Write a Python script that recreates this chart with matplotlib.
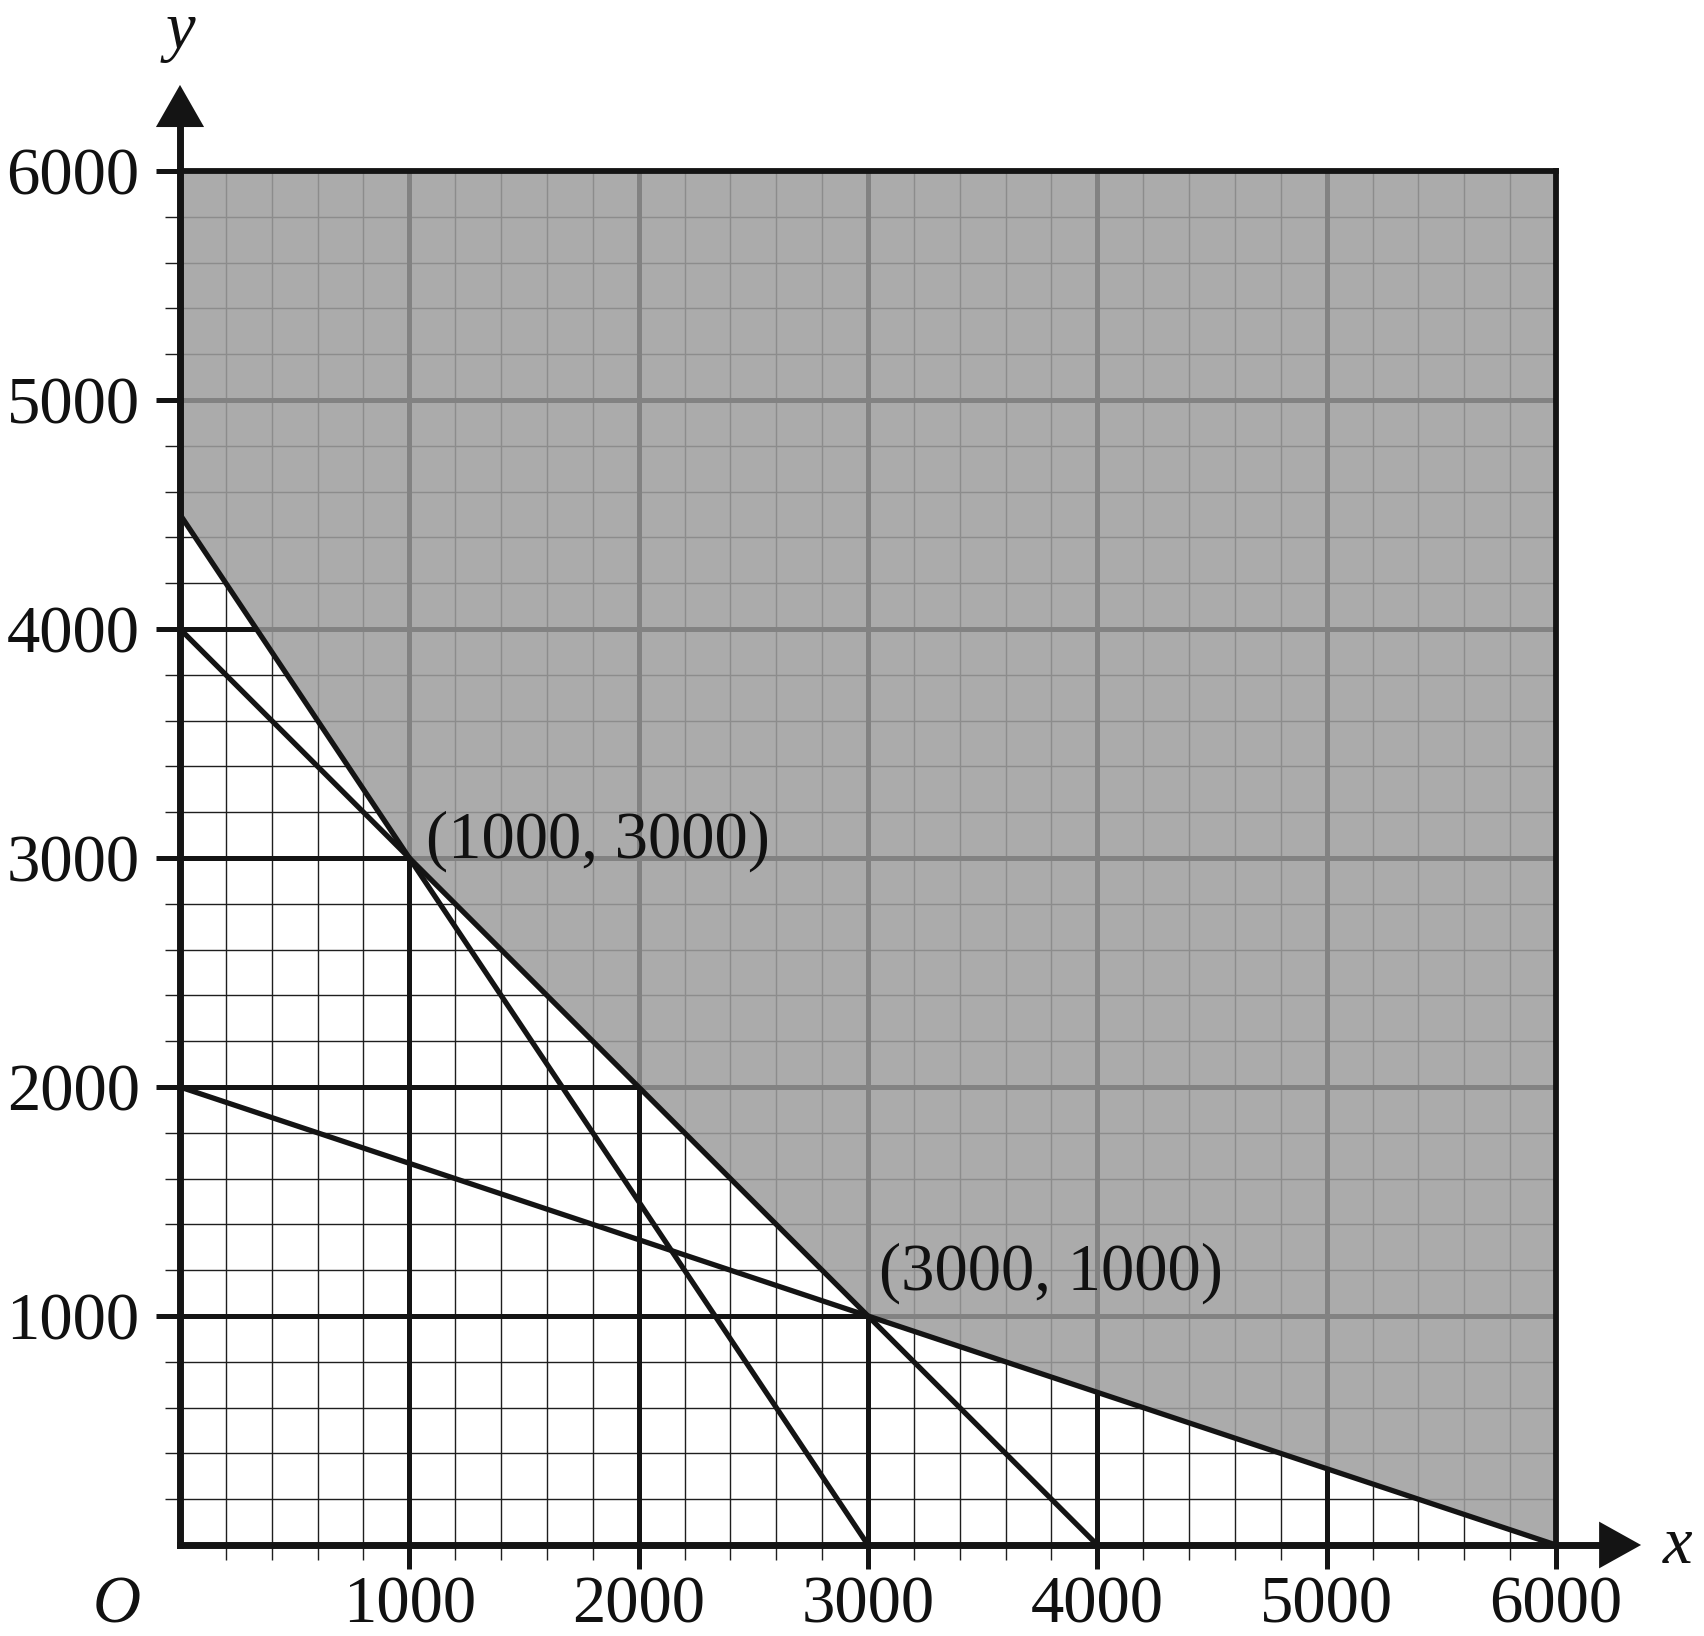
import matplotlib
matplotlib.use("Agg")
import matplotlib.pyplot as plt
from matplotlib.patches import Polygon
from matplotlib.collections import LineCollection

# ---------------- data ----------------
x_ticks = [1000, 2000, 3000, 4000, 5000, 6000]
y_ticks = [1000, 2000, 3000, 4000, 5000, 6000]
x_tick_labels = ["1000", "2000", "3000", "4000", "5000", "6000"]
y_tick_labels = ["1000", "2000", "3000", "4000", "5000", "6000"]

# constraint lines, given by their intercepts on the axes
line_x_intercepts = [3000, 4000, 6000]
line_y_intercepts = [4500, 4000, 2000]

# lower boundary of the shaded region
boundary_x = [0, 1000, 3000, 6000]
boundary_y = [4500, 3000, 1000, 0]

annot_x = [1000, 3000]
annot_y = [3000, 1000]
annot_labels = ["(1000, 3000)", "(3000, 1000)"]
annot_offsets_pt = [(12, 0), (8, 18.7)]

# ---------------- styling ----------------
SERIF = ["Liberation Serif", "DejaVu Serif"]
FS = 48
BLACK = "#141414"
SHADE = "#ababab"
GRID_GRAY_MINOR = "#8c8c8c"
GRID_GRAY_MAJOR = "#828282"

XMAX = 6000
YMAX = 6000
MINOR_STEP = 200

fig = plt.figure(figsize=(17.04, 16.36), dpi=100)
W, H = 1704, 1636
ax = fig.add_axes([180 / W, (H - 1545) / H, 1376 / W, 1374 / H])
ax.set_xlim(0, XMAX)
ax.set_ylim(0, YMAX)
for s in ax.spines.values():
    s.set_visible(False)
ax.set_facecolor("white")

# polygons
shade_verts = list(zip(boundary_x, boundary_y)) + [(XMAX, YMAX), (0, YMAX)]
white_verts = [(0, 0)] + list(zip(boundary_x[::-1], boundary_y[::-1]))
shade = Polygon(shade_verts, closed=True, facecolor=SHADE, edgecolor="none", zorder=1)
ax.add_patch(shade)
white_clip = Polygon(white_verts, closed=True, transform=ax.transData, facecolor="none", edgecolor="none")
shade_clip = Polygon(shade_verts, closed=True, transform=ax.transData, facecolor="none", edgecolor="none")

minor_vals = [v for v in range(MINOR_STEP, XMAX, MINOR_STEP) if v % 1000]
major_vals = [v for v in range(1000, XMAX, 1000)]

def grid_segments(vals):
    segs = []
    for v in vals:
        segs.append([(v, 0), (v, YMAX)])
        segs.append([(0, v), (XMAX, v)])
    return segs

# gray grid in shaded region
lc = LineCollection(grid_segments(minor_vals), colors=GRID_GRAY_MINOR, linewidths=1.0, zorder=2)
ax.add_collection(lc); lc.set_clip_path(shade_clip)
lc = LineCollection(grid_segments(major_vals), colors=GRID_GRAY_MAJOR, linewidths=3.6, zorder=3)
ax.add_collection(lc); lc.set_clip_path(shade_clip)
# black grid in white region
lc = LineCollection(grid_segments(minor_vals), colors="#1e1e1e", linewidths=1.0, zorder=2)
ax.add_collection(lc); lc.set_clip_path(white_clip)
lc = LineCollection(grid_segments(major_vals), colors=BLACK, linewidths=3.6, zorder=3)
ax.add_collection(lc); lc.set_clip_path(white_clip)

# constraint lines
for xi, yi in zip(line_x_intercepts, line_y_intercepts):
    ax.plot([0, xi], [yi, 0], color=BLACK, lw=3.8, zorder=6, solid_capstyle="butt")

# frame top and right
ax.plot([0, XMAX], [YMAX, YMAX], color=BLACK, lw=4.2, zorder=7, clip_on=False, solid_capstyle="projecting")
ax.plot([XMAX, XMAX], [0, YMAX], color=BLACK, lw=4.2, zorder=7, clip_on=False, solid_capstyle="projecting")

# axes with arrows
ax.plot([0, 0], [0, 6200], color=BLACK, lw=5, zorder=8, clip_on=False, solid_capstyle="projecting")
ax.plot([0, 6195], [0, 0], color=BLACK, lw=5, zorder=8, clip_on=False, solid_capstyle="projecting")
ax.add_patch(Polygon([(-105, 6192), (105, 6192), (0, 6376)], closed=True, facecolor=BLACK,
                     edgecolor="none", zorder=9, clip_on=False))
ax.add_patch(Polygon([(6188, -102), (6188, 102), (6371, 0)], closed=True, facecolor=BLACK,
                     edgecolor="none", zorder=9, clip_on=False))

# ticks
ax.set_xticks(x_ticks)
ax.set_xticklabels(x_tick_labels)
ax.set_yticks(y_ticks)
ax.set_yticklabels(y_tick_labels)
ax.set_xticks(minor_vals, minor=True)
ax.set_yticks(minor_vals, minor=True)
ax.tick_params(which="major", direction="out", length=17, width=3.6, color=BLACK)
ax.tick_params(which="minor", direction="out", length=10.8, width=1.0, color="#1e1e1e")
ax.tick_params(axis="x", which="major", pad=5)
ax.tick_params(axis="y", which="major", pad=12)
for lab in ax.get_xticklabels() + ax.get_yticklabels():
    lab.set_fontfamily(SERIF)
    lab.set_fontsize(FS)
    lab.set_color("#111111")

# axis letters
ax.text(0, 6533, "y", fontfamily=SERIF, fontstyle="italic", fontsize=FS, ha="center", va="baseline",
        color="#111111", clip_on=False)
ax.text(6532, -79, "x", fontfamily=SERIF, fontstyle="italic", fontsize=FS, ha="center", va="baseline",
        color="#111111", clip_on=False)
ax.text(-275, -340, "O", fontfamily=SERIF, fontstyle="italic", fontsize=FS, ha="center", va="baseline",
        color="#111111", clip_on=False)

# annotations
for px, py, lab, off in zip(annot_x, annot_y, annot_labels, annot_offsets_pt):
    ax.annotate(lab, xy=(px, py), xytext=off, textcoords="offset points", fontfamily=SERIF,
                fontsize=FS, ha="left", va="baseline", color="#111111", zorder=10)

fig.savefig("out.png", dpi=100)
